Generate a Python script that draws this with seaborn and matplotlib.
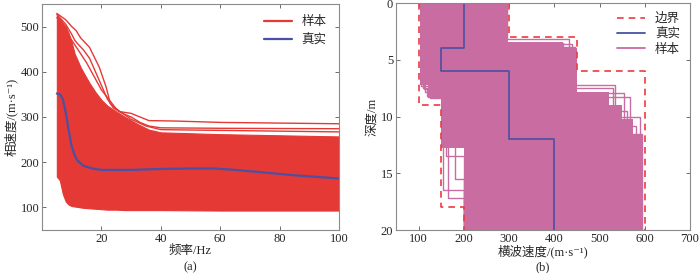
import numpy as np
import pandas as pd
import matplotlib
matplotlib.use("Agg")
import matplotlib.pyplot as plt
import seaborn as sns

# ---------------- data (a): dispersion curves ----------------
freq_true = [5, 6, 7, 8, 9, 10, 11, 12, 14, 17, 20, 25, 30, 40, 50, 58, 65, 75, 85, 100]
vel_true = [352, 350, 340, 310, 270, 235, 215, 203, 192, 186, 183, 183, 183, 185, 186, 186, 183, 177, 171, 164]

# envelope of the sample band (main body)
freq_env = [5, 6, 6.5, 7, 8, 9, 10, 11, 12, 13, 14, 16, 18, 20, 22, 25, 28, 32, 36, 40, 60, 100]
env_upper = [526, 518, 513, 508, 500, 485, 465, 440, 425, 410, 398, 375, 355, 338, 325, 312, 300, 285, 272, 266, 262, 257]
env_lower = [168, 160, 145, 130, 113, 106, 103, 102, 101, 100, 99, 98, 97, 96, 95, 95, 94, 94, 94, 94, 93, 93]

# a few distinct sample curves on top of the band
freq_s1 = [5, 8, 10, 11.5, 13, 16, 19.3, 21.6, 23, 26, 30, 33, 36, 45, 60, 100]
vel_s1 = [529, 515, 500, 491, 475, 454, 410, 366, 330, 312, 308, 300, 292, 291, 288, 285]
freq_s2 = [5, 8, 10, 11, 12, 13, 14, 16, 18, 20, 22, 24, 27, 30, 33, 36, 40, 60, 100]
vel_s2 = [527, 505, 483, 470, 462, 455, 448, 430, 400, 370, 340, 320, 308, 300, 288, 280, 276, 275, 274]
freq_s3 = [5, 10, 15, 20, 25, 30, 35, 40, 100]
vel_s3 = [520, 470, 420, 360, 318, 295, 280, 272, 267]

# ---------------- data (b): shear-wave velocity profiles ----------------
bound_left_vel = [100, 150, 200]
bound_left_top = [0, 9, 18]
bound_right_vel = [300, 450, 600]
bound_right_top = [0, 3, 6]
true_vs = [200, 150, 300, 400]
true_top = [0, 4, 6, 12]

fill_left_vel = [102, 120, 150, 200]
fill_left_top = [0, 7.2, 8.4, 12.8]
fill_right_vel = [298, 420, 450, 520, 550, 575, 595]
fill_right_top = [0, 3.4, 4.0, 7.8, 9.0, 10.2, 11.6]

sample_profiles = [
    ([295, 432, 535, 590], [0, 3.2, 7.2, 10.0]),
    ([280, 445, 568, 595], [0, 3.9, 8.3, 11.5]),
    ([260, 420, 555, 580], [0, 3.5, 7.9, 10.8]),
    ([270, 440, 530, 560], [0, 3.6, 7.5, 9.5]),
    ([110, 120, 155, 200], [0, 7.5, 8.3, 16.5]),
    ([105, 130, 165, 200], [0, 7.3, 8.0, 17.2]),
    ([115, 125, 180, 200], [0, 7.8, 8.4, 15.5]),
    ([112, 118, 160, 200], [0, 7.6, 8.2, 13.5]),
]
max_depth = 20

RED = "#E53935"
BLUE = "#4B50A2"
PINK = "#C86CA2"
BRED = "#EC3B3F"


def step_xy(vels, tops, bottom=max_depth):
    xs, ys = [], []
    edges = list(tops) + [bottom]
    for i, v in enumerate(vels):
        xs += [v, v]
        ys += [edges[i], edges[i + 1]]
    return np.array(xs), np.array(ys)


def env_at(d, vels, tops):
    idx = np.searchsorted(tops, d, side="right") - 1
    return vels[min(max(idx, 0), len(vels) - 1)]


sns.set_theme(style="white")
plt.rcParams["font.family"] = ["Liberation Serif", "Noto Sans CJK SC", "DejaVu Serif"]
plt.rcParams["axes.unicode_minus"] = False
FS = 9

fig = plt.figure(figsize=(7.0, 2.73), dpi=100)
ax1 = fig.add_axes([0.060, 0.1575, 0.4243, 0.828])
ax2 = fig.add_axes([0.5657, 0.1575, 0.4200, 0.8315])

# ----- panel (a) -----
ax1.fill_between(freq_env, env_lower, env_upper, color=RED, lw=0.8, edgecolor=RED)
for fx, vy in [(freq_s1, vel_s1), (freq_s2, vel_s2), (freq_s3, vel_s3)]:
    sns.lineplot(x=fx, y=vy, ax=ax1, color=RED, lw=1.0, estimator=None, sort=False)
sns.lineplot(x=freq_true, y=vel_true, ax=ax1, color=BLUE, lw=1.6, estimator=None, sort=False)
ax1.plot([], [], color=RED, lw=1.6, label="样本")
ax1.plot([], [], color=BLUE, lw=1.6, label="真实")
ax1.set_xlim(0, 100)
ax1.set_ylim(50, 550)
ax1.set_xticks([20, 40, 60, 80, 100])
ax1.set_yticks([100, 200, 300, 400, 500])
ax1.set_xlabel("频率/Hz", fontsize=FS, labelpad=0)
ax1.set_ylabel("相速度/(m·s⁻¹)", fontsize=FS, labelpad=2)
ax1.legend(loc="upper right", frameon=False, fontsize=FS, handlelength=2.2,
           borderaxespad=0.6, labelspacing=0.5)

# ----- panel (b) -----
ds = sorted(set(fill_left_top + fill_right_top + [max_depth]))
for a, b in zip(ds[:-1], ds[1:]):
    lv = env_at(a, fill_left_vel, fill_left_top)
    rv = env_at(a, fill_right_vel, fill_right_top)
    ax2.fill_betweenx([a, b], [lv, lv], [rv, rv], color=PINK, lw=0)

for vels, tops in sample_profiles:
    sx, sy = step_xy(vels, tops)
    sns.lineplot(x=sx, y=sy, ax=ax2, color=PINK, lw=1.0, estimator=None, sort=False)

for bv, bt in [(bound_left_vel, bound_left_top), (bound_right_vel, bound_right_top)]:
    bx, by = step_xy(bv, bt)
    sns.lineplot(x=bx, y=by, ax=ax2, color=BRED, lw=1.2, linestyle=(0, (4, 3)),
                 estimator=None, sort=False)
tx, ty = step_xy(true_vs, true_top)
sns.lineplot(x=tx, y=ty, ax=ax2, color=BLUE, lw=1.2, estimator=None, sort=False)

ax2.plot([], [], color=BRED, lw=1.2, linestyle=(0, (4, 3)), label="边界")
ax2.plot([], [], color=BLUE, lw=1.3, label="真实")
ax2.plot([], [], color=PINK, lw=1.3, label="样本")
ax2.set_xlim(50, 700)
ax2.set_ylim(20, 0)
ax2.set_xticks([100, 200, 300, 400, 500, 600, 700])
ax2.set_yticks([0, 5, 10, 15, 20])
ax2.set_xlabel("横波速度/(m·s⁻¹)", fontsize=FS, labelpad=0)
ax2.set_ylabel("深度/m", fontsize=FS, labelpad=2)
ax2.legend(loc="upper right", frameon=False, fontsize=FS, handlelength=2.2,
           borderaxespad=0.4, labelspacing=0.25)

for ax in (ax1, ax2):
    for s in ax.spines.values():
        s.set_color("#8a8a8a")
        s.set_linewidth(0.8)
    ax.tick_params(direction="in", length=3, width=0.6, color="#555555",
                   labelsize=FS, top=True, right=True, bottom=True, left=True, pad=2)

fig.text(0.060 + 0.4243 / 2, 0.0, "(a)", ha="center", va="bottom", fontsize=FS)
fig.text(0.5657 + 0.4200 / 2, 0.0, "(b)", ha="center", va="bottom", fontsize=FS)

fig.savefig("out.png", dpi=100)
